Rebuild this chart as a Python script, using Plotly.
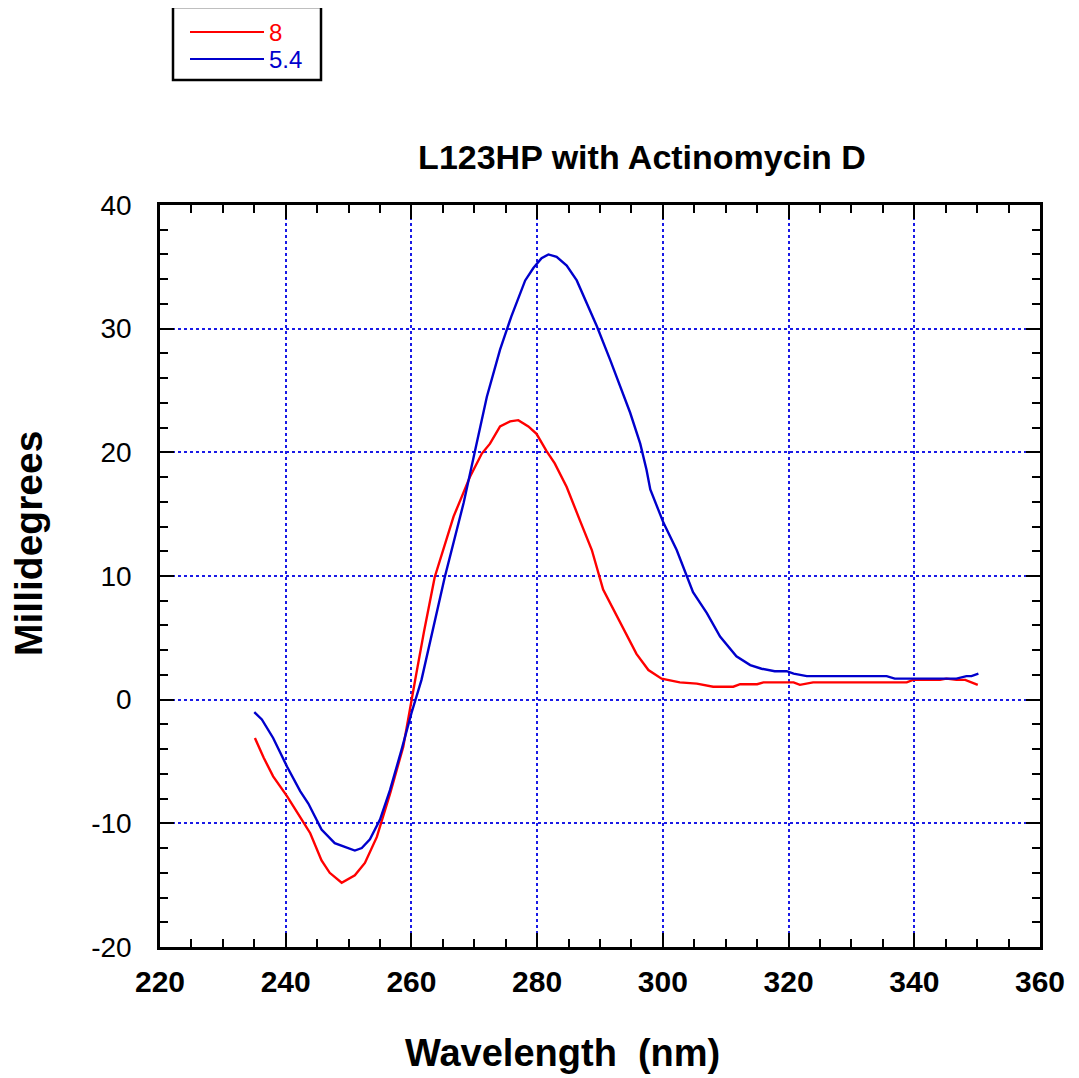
import plotly.graph_objects as go

# pH 8 (red)
red_x = [235.1, 236.5, 238.0, 240.2, 242.3, 243.9, 245.7, 247.0, 248.9, 251.0, 252.6, 254.5,
         256.6, 258.7, 260.6, 262.0, 263.7, 265.1, 266.7, 268.0, 269.3, 271.2, 272.5, 274.1,
         275.7, 277.0, 278.6, 279.9, 281.5, 282.8, 284.7, 286.8, 288.7, 290.5, 294.0, 295.8,
         297.7, 299.8, 302.7, 305.4, 308.0, 311.2, 312.3, 315.0, 316.0, 320.8, 321.8, 323.9,
         338.8, 339.8, 344.1, 345.1, 346.7, 348.1, 350.1]
red_y = [-3.1, -4.7, -6.2, -7.8, -9.5, -10.8, -13.0, -14.0, -14.8, -14.2, -13.2, -11.1,
         -7.6, -3.8, 1.6, 5.5, 9.9, 12.1, 14.8, 16.4, 18.0, 19.9, 20.7, 22.1,
         22.5, 22.6, 22.1, 21.5, 20.1, 19.1, 17.2, 14.5, 12.1, 8.9, 5.4, 3.7,
         2.4, 1.7, 1.4, 1.3, 1.05, 1.05, 1.25, 1.25, 1.4, 1.4, 1.2, 1.4,
         1.4, 1.6, 1.6, 1.7, 1.6, 1.6, 1.2]

# pH 5.4 (blue)
blue_x = [235.0, 236.2, 238.0, 240.2, 242.3, 243.6, 245.7, 247.8, 249.4, 251.0, 252.1, 253.4,
          255.0, 256.6, 258.4, 260.0, 261.6, 263.5, 265.3, 268.3, 270.4, 272.0, 274.1, 275.9,
          278.1, 279.4, 280.7, 281.8, 283.1, 284.7, 286.3, 289.5, 291.6, 293.2, 294.8, 296.4,
          297.4, 298.0, 300.1, 302.2, 304.8, 307.0, 309.1, 311.7, 313.9, 315.7, 317.8, 319.7,
          320.8, 322.9, 335.6, 336.9, 346.7, 348.3, 349.1, 350.2]
blue_y = [-1.0, -1.6, -3.1, -5.4, -7.4, -8.4, -10.5, -11.6, -11.9, -12.2, -12.0, -11.3,
          -9.7, -7.3, -4.1, -1.1, 1.6, 5.8, 9.9, 15.9, 20.7, 24.5, 28.3, 31.0,
          33.9, 34.9, 35.7, 36.0, 35.8, 35.1, 33.9, 30.2, 27.5, 25.3, 23.2, 20.7,
          18.6, 17.0, 14.3, 12.1, 8.7, 7.0, 5.1, 3.5, 2.8, 2.5, 2.3, 2.3,
          2.1, 1.9, 1.9, 1.7, 1.7, 1.9, 1.9, 2.1]

series_names = ["8", "5.4"]
series_colors = ["#ff0000", "#0000cc"]

x_ticks = [220, 240, 260, 280, 300, 320, 340, 360]
y_ticks = [-20, -10, 0, 10, 20, 30, 40]

FONT = "Liberation Sans, Arial, Helvetica, sans-serif"

W, H = 1079, 1078
OFF = 8  # page body margin offset
# desired on-screen plot frame: left 160, right 1040, top 205, bottom 947
ml = 160 - OFF
mt = 205 - OFF
mr = W - (1040 - OFF)
mb = H - (947 - OFF)
pw, ph = W - ml - mr, H - mt - mb


def px(xs):
    return (xs - OFF - ml) / pw


def py(ys):
    return (H - mb - (ys - OFF)) / ph


fig = go.Figure()
fig.add_trace(go.Scatter(x=red_x, y=red_y, mode="lines", name=series_names[0],
                         line=dict(color=series_colors[0], width=2.4)))
fig.add_trace(go.Scatter(x=blue_x, y=blue_y, mode="lines", name=series_names[1],
                         line=dict(color=series_colors[1], width=2.4)))

axis_common = dict(
    showline=True, linecolor="black", linewidth=2.5, mirror="allticks",
    ticks="inside", ticklen=14, tickwidth=2, tickcolor="black",
    showgrid=True, gridcolor="#1a1ae6", gridwidth=1.5, griddash="dot",
    zeroline=False,
)

fig.update_xaxes(
    range=[220, 360], tickvals=x_ticks, ticktext=[str(v) for v in x_ticks],
    minor=dict(dtick=5, ticks="inside", ticklen=8, tickwidth=2, tickcolor="black", showgrid=False),
    tickfont=dict(family=FONT, size=30, color="black", weight="bold"),
    ticklabelstandoff=6,
    **axis_common,
)
fig.update_yaxes(
    range=[-20, 40], tickvals=y_ticks, ticktext=[str(v) for v in y_ticks],
    minor=dict(dtick=2, ticks="inside", ticklen=8, tickwidth=2, tickcolor="black", showgrid=False),
    tickfont=dict(family=FONT, size=28, color="black"),
    ticklabelstandoff=20,
    **axis_common,
)

# axis titles
fig.add_annotation(xref="paper", yref="paper", x=px(562), y=py(1053), text="<b>Wavelength  (nm)</b>",
                   showarrow=False, xanchor="center", yanchor="middle",
                   font=dict(family=FONT, size=38, color="black"))
fig.add_annotation(xref="paper", yref="paper", x=px(28), y=py(544), text="<b>Millidegrees</b>",
                   showarrow=False, xanchor="center", yanchor="middle", textangle=-90,
                   font=dict(family=FONT, size=39, color="black"))

# manual legend (box, line samples, labels)
fig.add_shape(type="rect", xref="paper", yref="paper", x0=px(173), x1=px(321), y0=py(80), y1=py(7),
              line=dict(color="black", width=2.5), fillcolor="white")
legend_rows = [32, 59]
for yy, nm, col in zip(legend_rows, series_names, series_colors):
    fig.add_shape(type="line", xref="paper", yref="paper", x0=px(190), x1=px(264), y0=py(yy), y1=py(yy),
                  line=dict(color=col, width=2))
    fig.add_annotation(xref="paper", yref="paper", x=px(268), y=py(yy), text=nm, showarrow=False,
                       xanchor="left", yanchor="middle", borderpad=0,
                       font=dict(family=FONT, size=24, color=col))

fig.update_layout(
    width=W, height=H,
    margin=dict(l=ml, r=mr, t=mt, b=mb),
    paper_bgcolor="white", plot_bgcolor="white",
    showlegend=False,
    title=dict(text="<b>L123HP with Actinomycin D</b>", x=px(642), xref="paper", xanchor="center",
               y=1 - (157 - OFF) / H, yref="container", yanchor="middle",
               font=dict(family=FONT, size=34, color="black")),
)

fig.write_html("out.html")
